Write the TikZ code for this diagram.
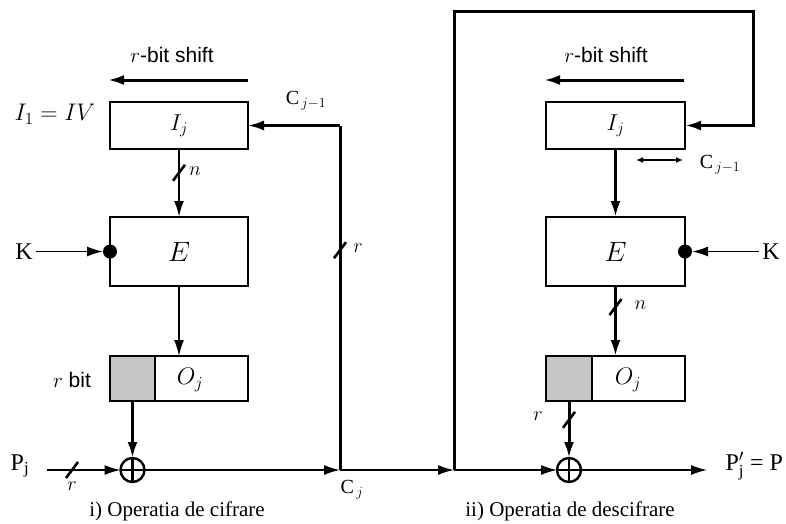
\documentclass[tikz,border=0pt]{standalone}
\usepackage{fix-cm}
\usepackage{amsmath}
\usepackage[no-math]{fontspec}
\setmainfont{Liberation Serif}
\newfontfamily\hv{Liberation Sans}
\usetikzlibrary{arrows.meta}
\begin{document}
\begin{tikzpicture}[x=1pt,y=-1pt,
  box/.style={draw,line width=2.4pt,inner sep=0pt,outer sep=0pt,minimum width=138pt},
  graybox/.style={draw,line width=2.4pt,fill=gray!45,inner sep=0pt,outer sep=0pt,minimum width=45pt,minimum height=45pt},
  tip/.style={-{Latex[length=16pt,width=10pt]}},
  wthin/.style={line width=1.6pt},
  wmed/.style={line width=2.4pt},
  wthick/.style={line width=3pt},
  slash/.style={line width=2.6pt},
  xor/.style={circle,draw,line width=2.4pt,minimum size=24pt,inner sep=0pt,outer sep=0pt,
    path picture={\draw[line width=2.4pt] (path picture bounding box.north) -- (path picture bounding box.south)
      (path picture bounding box.west) -- (path picture bounding box.east);}},
  dot/.style={circle,fill,minimum size=14pt,inner sep=0pt,outer sep=0pt},
  captxt/.style={font=\fontsize{21}{24}\selectfont},
  sftxt/.style={font=\fontsize{21}{24}\selectfont\hv},
  mlbl/.style={font=\fontsize{24}{28}\selectfont},
  slbl/.style={font=\fontsize{20}{24}\selectfont},
  clbl/.style={font=\fontsize{20}{23}\selectfont},
  klbl/.style={font=\fontsize{24}{27}\selectfont},
]
\useasboundingbox (0,0) rectangle (786,523);

% ---------- left: encryption ----------
\node[sftxt] (LSt) at (172,55) {$r$-bit shift};
\coordinate (LSa) at (248,80);
\coordinate (LSb) at (108,80);
\draw[wthick,tip] (LSa) -- (LSb);

\node[mlbl] (LIV) at (55,114) {$I_1 = IV$};
\node[box,minimum height=47pt,font=\fontsize{23}{26}\selectfont] (LI) at (179,125.5) {$I_j$};
\node[box,minimum height=69pt,font=\fontsize{28}{32}\selectfont] (LE) at (179,251.5) {$E$};
\node[box,minimum height=45pt] (LO) at (179,378.5) {};
\node[graybox] (LG) at (132.5,378.5) {};
\node[mlbl] (LOl) at (190,380) {$O_j$};
\node[xor] (LX) at (132.5,470) {};
\node[dot] (LD) at (110,251.5) {};
\node[klbl] (KL) at (24,251.5) {K};
\node[sftxt] (Lrb) at (72,380) {$r$ bit};

\draw[wmed,tip] (LI) -- coordinate[pos=.35] (s1) (LE);
\draw[slash] ([shift={(-6,8)}]s1) -- ([shift={(6,-8)}]s1);
\node[slbl] (s1l) at ([shift={(16,-2)}]s1) {$n$};

\draw[wthin,tip] (LE) -- (LO.north);
\draw[wthick,tip] (LG) -- (LX);
\draw[wthin,tip] (KL) -- (LD);

\node[klbl] (PL) at (20,466) {P$_{\text{j}}$};
\coordinate (PIN) at (47,470);
\draw[wthin,tip] (PIN) -- coordinate[pos=.34] (s2) (LX);
\draw[slash] ([shift={(-6,8)}]s2) -- ([shift={(6,-8)}]s2);
\node[slbl] (s2l) at ([shift={(0,16)}]s2) {$r$};

\coordinate (LJ) at (340,470);
\coordinate (LC) at (340,125.5);
\draw[wthin,tip] (LX) -- (LJ);
\draw[wthick] (LJ) -- coordinate[pos=.638] (s3) (LC);
\draw[slash] ([shift={(-6,8)}]s3) -- ([shift={(6,-8)}]s3);
\node[slbl] (s3l) at ([shift={(18,-2)}]s3) {$r$};
\draw[wmed,tip] (LC) -- (LI.east);
\node[clbl] (LCl) at (306,101) {C$_{\,j-1}$};
\node[clbl] (LCj) at (352,490) {C$_{\,j}$};
\node[captxt] (capL) at (177,511) {i) Operatia de cifrare};

% ---------- middle / loop ----------
\coordinate (RJ) at (454,470);
\coordinate (T1) at (454,11);
\coordinate (T2) at (753,11);
\coordinate (T3) at (753,125.5);
\draw[wthin,tip] (LJ) -- (RJ);

% ---------- right: decryption ----------
\node[sftxt] (RSt) at (606,55) {$r$-bit shift};
\coordinate (RSa) at (684,80);
\coordinate (RSb) at (544,80);
\draw[wthick,tip] (RSa) -- (RSb);

\node[box,minimum width=139pt,minimum height=47pt,font=\fontsize{23}{26}\selectfont] (RI) at (615.5,125.5) {$I_j$};
\node[box,minimum width=139pt,minimum height=69pt,font=\fontsize{28}{32}\selectfont] (RE) at (615.5,251.5) {$E$};
\node[box,minimum width=139pt,minimum height=45pt] (RO) at (615.5,378.5) {};
\node[graybox,minimum width=46pt] (RG) at (569,378.5) {};
\node[mlbl] (ROl) at (628,380) {$O_j$};
\node[xor] (RX) at (569,470) {};
\node[dot] (RD) at (685,251.5) {};
\node[klbl] (KR) at (771,251.5) {K};

\draw[wthick,tip] (RJ) -- (T1) -- (T2) -- (T3) -- (RI.east);
\coordinate (da1) at (636,160);
\coordinate (da2) at (683,160);
\draw[wmed,{Latex[length=7pt,width=6pt]}-{Latex[length=7pt,width=6pt]}] (da1) -- (da2);
\node[clbl] (RCl) at (720,165) {C$_{\,j-1}$};

\draw[wthick,tip] (RI) -- (RE);
\draw[wthin,tip] (KR) -- (RD);
\draw[wthick,tip] (RE) -- coordinate[pos=.3] (s4) (RO.north);
\draw[slash] ([shift={(-6,8)}]s4) -- ([shift={(6,-8)}]s4);
\node[slbl] (s4l) at ([shift={(25,-2)}]s4) {$n$};
\draw[wthick,tip] (RG) -- coordinate[pos=.33] (s5) (RX);
\draw[slash] ([shift={(-6,8)}]s5) -- ([shift={(6,-8)}]s5);
\node[slbl] (s5l) at ([shift={(-31,-4)}]s5) {$r$};

\coordinate (OUT) at (707,470);
\draw[wthin,tip] (RJ) -- (RX);
\draw[wthin,tip] (RX) -- (OUT);
\node[klbl,anchor=west] (PO) at (722,466) {P$'_{\text{j}}$ = P};
\node[captxt] (capR) at (570,511) {ii) Operatia de descifrare};
\end{tikzpicture}
\end{document}
